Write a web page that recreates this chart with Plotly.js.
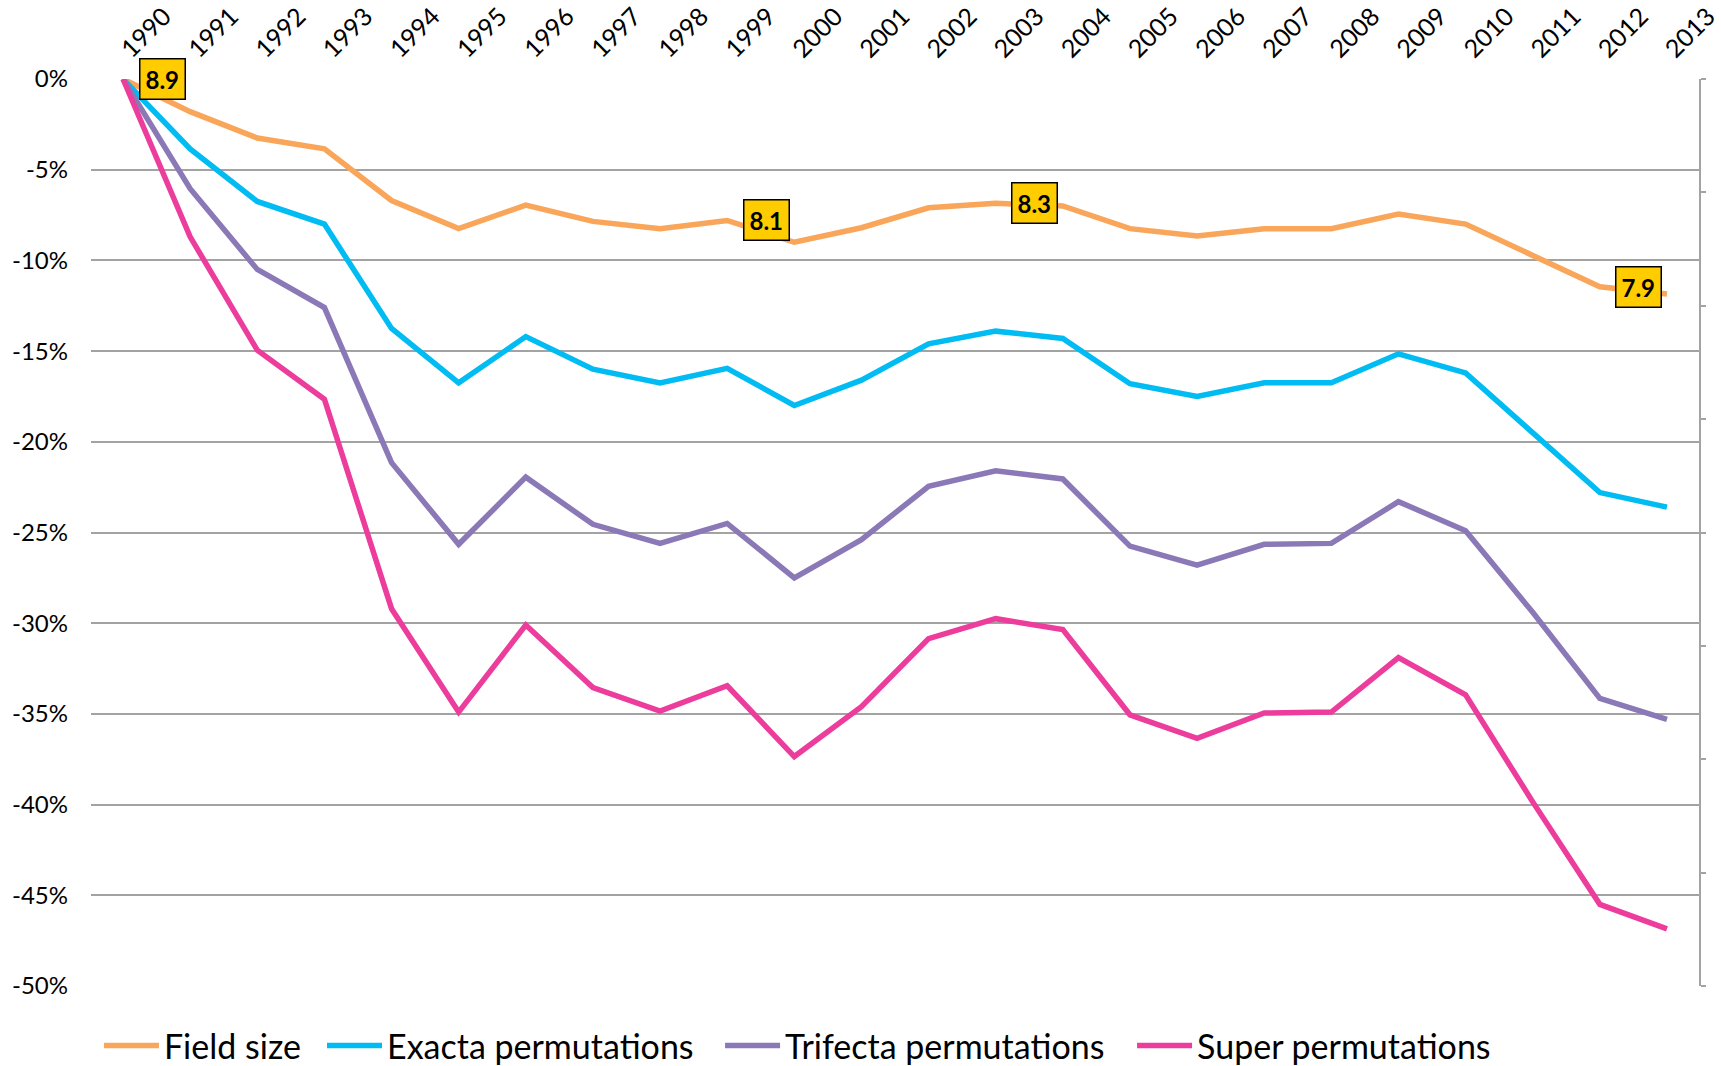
<!DOCTYPE html>
<html>
<head>
<meta charset="utf-8">
<script src="https://cdn.plot.ly/plotly-3.0.1.min.js"></script>
<style>
  html, body { margin: 0; padding: 0; background: #ffffff; }
  #chart { width: 1721px; height: 1066px; }
</style>
</head>
<body>
<div id="chart"></div>
<script>
// ---- Data (percent change vs 1990) ----
const years = ['1990','1991','1992','1993','1994','1995','1996','1997','1998','1999','2000','2001',
               '2002','2003','2004','2005','2006','2007','2008','2009','2010','2011','2012','2013'];
const fieldSize = [0,-1.8,-3.25,-3.85,-6.7,-8.25,-6.95,-7.85,-8.25,-7.8,-9.0,-8.2,
                   -7.1,-6.85,-7.0,-8.25,-8.65,-8.25,-8.25,-7.45,-8.0,-9.75,-11.45,-11.85];
const exacta = [0,-3.85,-6.75,-8.0,-13.75,-16.75,-14.2,-16.0,-16.75,-15.95,-18.0,-16.6,
                -14.6,-13.9,-14.3,-16.8,-17.5,-16.75,-16.75,-15.15,-16.2,-19.45,-22.8,-23.6];
const trifecta = [0,-6.05,-10.5,-12.6,-21.15,-25.65,-21.95,-24.55,-25.6,-24.5,-27.5,-25.4,
                  -22.45,-21.6,-22.05,-25.75,-26.8,-25.65,-25.6,-23.3,-24.9,-29.4,-34.15,-35.3];
const superPerm = [0,-8.7,-14.95,-17.65,-29.2,-34.9,-30.1,-33.55,-34.85,-33.45,-37.35,-34.6,
                   -30.85,-29.75,-30.35,-35.05,-36.35,-34.95,-34.9,-31.9,-33.95,-39.85,-45.5,-46.85];
const seriesNames = ['Field size','Exacta permutations','Trifecta permutations','Super permutations'];

// Field-size value labels
const labelYears = ['1990','1999','2003','2012'];
const labelTexts = ['8.9','8.1','8.3','7.9'];

// y axis ticks
const yTickVals = [0,-5,-10,-15,-20,-25,-30,-35,-40,-45,-50];
const yTickText = ['0%','-5%','-10%','-15%','-20%','-25%','-30%','-35%','-40%','-45%','-50%'];

// ---- Styles ----
const colors = ['#F9A65A','#00BCF2','#8B78B6','#EC3C9C'];
const FONT = 'Lato, sans-serif';
const legendIds = ['legend','legend2','legend3','legend4'];
const legendX = [0.0575, 0.1871, 0.4184, 0.6578];   // left edges of legend entries (container fraction)

const seriesData = [fieldSize, exacta, trifecta, superPerm];
const traces = seriesData.map((vals, i) => ({
  type: 'scatter',
  mode: 'lines',
  x: years,
  y: vals,
  name: seriesNames[i],
  legend: legendIds[i],
  line: { color: colors[i], width: 5.5 },
  hoverinfo: 'x+y+name'
}));
// empty trace so the right-hand secondary axis is drawn
traces.push({ type: 'scatter', mode: 'lines', x: [], y: [], yaxis: 'y2', showlegend: false, hoverinfo: 'skip' });

const annotations = labelYears.map((yr, k) => {
  const idx = years.indexOf(yr);
  return {
    x: idx,
    y: fieldSize[idx],
    xref: 'x', yref: 'y',
    text: '<b>' + labelTexts[k] + '</b>',
    showarrow: false,
    xanchor: 'center', yanchor: 'middle',
    xshift: 39,
    bgcolor: '#FFCC00',
    bordercolor: '#000000',
    borderwidth: 1.5,
    borderpad: 5,
    font: { family: FONT, size: 24, color: '#000000' }
  };
});

const layout = {
  width: 1721, height: 1066,
  paper_bgcolor: '#ffffff', plot_bgcolor: '#ffffff',
  margin: { l: 91, r: 22, t: 79, b: 80, pad: 0 },
  font: { family: FONT, color: '#000000' },
  showlegend: true,
  xaxis: {
    type: 'category',
    side: 'top',
    range: [-0.477, 23.477],
    tickangle: -45,
    ticks: '',
    showgrid: false,
    showline: false,
    zeroline: false,
    ticklabelstandoff: 10,
    tickfont: { family: FONT, size: 25, color: '#000000' }
  },
  yaxis: {
    range: [-50, 0],
    tickvals: yTickVals,
    ticktext: yTickText,
    ticks: '',
    showgrid: true,
    gridcolor: '#A3A3A3',
    gridwidth: 1.5,
    zeroline: false,
    showline: false,
    ticklabelstandoff: 22,
    tickfont: { family: FONT, size: 24, color: '#000000' }
  },
  yaxis2: {
    overlaying: 'y',
    side: 'right',
    range: [0, 8],
    dtick: 1,
    ticks: 'outside',
    ticklen: 5,
    tickwidth: 1.5,
    tickcolor: '#A3A3A3',
    showline: true,
    linecolor: '#A3A3A3',
    linewidth: 1.5,
    showgrid: false,
    zeroline: false,
    showticklabels: false
  },
  annotations: annotations
};

legendIds.forEach((id, i) => {
  layout[id] = {
    orientation: 'h',
    xref: 'container', yref: 'container',
    x: legendX[i], xanchor: 'left',
    y: 0.0188, yanchor: 'middle',
    itemwidth: 55,
    font: { family: FONT, size: 34, color: '#000000' },
    bgcolor: 'rgba(0,0,0,0)'
  };
});

Plotly.newPlot('chart', traces, layout, { displayModeBar: false });
</script>
</body>
</html>
